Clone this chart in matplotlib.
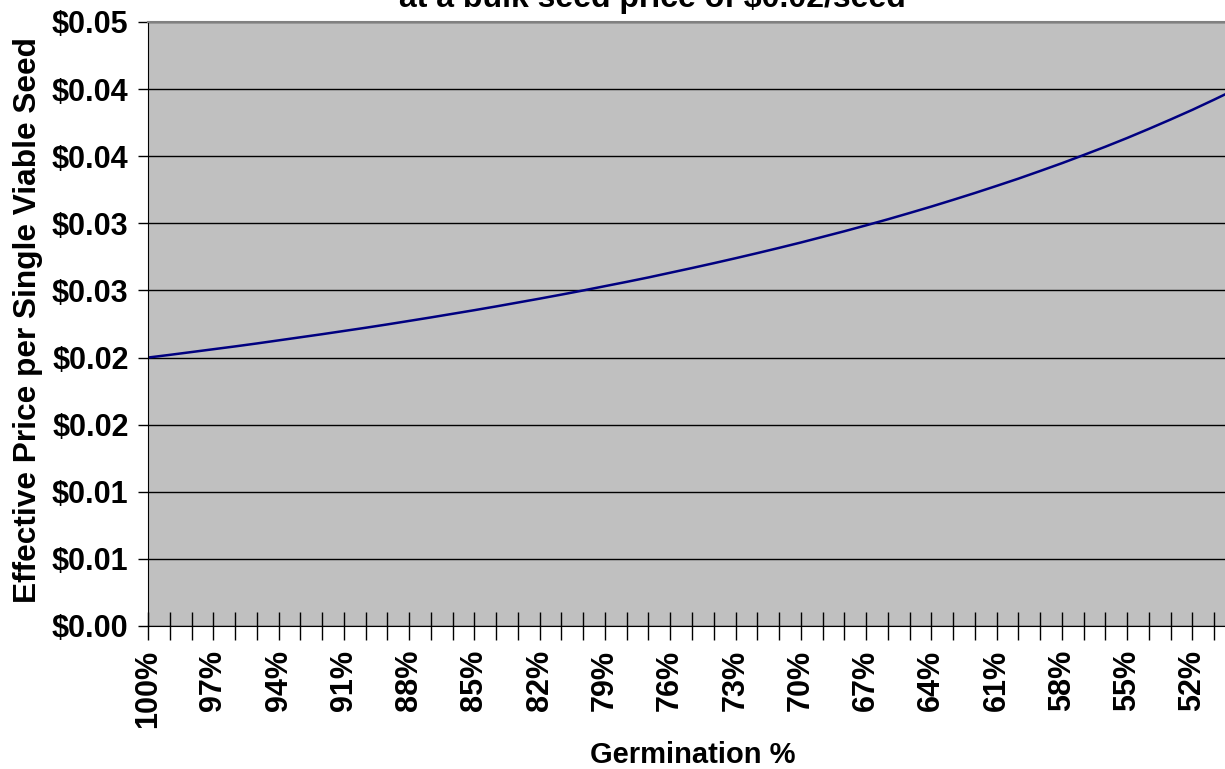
import matplotlib
matplotlib.use('Agg')
import matplotlib.pyplot as plt
from matplotlib.ticker import MultipleLocator

plt.rcParams['font.family'] = ['Liberation Sans', 'DejaVu Sans']
plt.rcParams['font.weight'] = 'bold'

# germination % (category axis runs from 100 down)
germination = [100, 99, 98, 97, 96, 95, 94, 93, 92, 91, 90, 89, 88, 87, 86, 85, 84,
               83, 82, 81, 80, 79, 78, 77, 76, 75, 74, 73, 72, 71, 70, 69, 68, 67,
               66, 65, 64, 63, 62, 61, 60, 59, 58, 57, 56, 55, 54, 53, 52, 51, 50]
# effective price per viable seed
price = [0.02000, 0.02020, 0.02041, 0.02062, 0.02083, 0.02105, 0.02128, 0.02151,
         0.02174, 0.02198, 0.02222, 0.02247, 0.02273, 0.02299, 0.02326, 0.02353,
         0.02381, 0.02410, 0.02439, 0.02469, 0.02500, 0.02532, 0.02564, 0.02597,
         0.02632, 0.02667, 0.02703, 0.02740, 0.02778, 0.02817, 0.02857, 0.02899,
         0.02941, 0.02985, 0.03030, 0.03077, 0.03125, 0.03175, 0.03226, 0.03279,
         0.03333, 0.03390, 0.03448, 0.03509, 0.03571, 0.03636, 0.03704, 0.03774,
         0.03846, 0.03922, 0.04000]

y_ticks = [0.0, 0.005, 0.01, 0.015, 0.02, 0.025, 0.03, 0.035, 0.04, 0.045]
y_labels = ['$0.00', '$0.01', '$0.01', '$0.02', '$0.02', '$0.03', '$0.03',
            '$0.04', '$0.04', '$0.05']
x_label_ticks = [100, 97, 94, 91, 88, 85, 82, 79, 76, 73, 70, 67, 64, 61, 58, 55, 52]

W, H = 1225, 769
fig = plt.figure(figsize=(W / 100, H / 100), dpi=100)
# plot area runs past the right edge of the picture (cropped chart)
left, right, top, bottom = 148, 1236, 22, 626
ax = fig.add_axes([left / W, 1 - bottom / H, (right - left) / W, (bottom - top) / H])
ax.set_facecolor('#C0C0C0')

ax.plot(germination, price, color='#000080', lw=1.8)

ax.set_xlim(100, 50)
ax.set_ylim(0, 0.045)

ax.set_yticks(y_ticks)
ax.set_yticklabels(y_labels, fontsize=22, fontweight='bold')
ax.yaxis.grid(True, color='black', lw=1)
ax.set_axisbelow(True)

ax.set_xticks(x_label_ticks)
ax.set_xticklabels(['{}%'.format(g) for g in x_label_ticks], rotation=90,
                   fontsize=22, fontweight='bold', va='top', ha='center')
ax.xaxis.set_minor_locator(MultipleLocator(1))
ax.tick_params(axis='x', which='both', direction='inout', length=20, width=1,
               color='black', pad=7)
ax.tick_params(axis='y', direction='out', length=7, width=1, color='black', pad=7)

ax.spines['left'].set_color('black')
ax.spines['bottom'].set_color('black')
ax.spines['top'].set_color('#808080')
ax.spines['top'].set_linewidth(1.5)
ax.spines['right'].set_visible(False)

# title is cut off at the top in the original chart
fig.text(652 / W, 1 - 7 / H, 'at a bulk seed price of $0.02/seed', ha='center',
         va='baseline', fontsize=23, fontweight='bold')
fig.text(693 / W, 1 - 763 / H, 'Germination %', ha='center', va='baseline',
         fontsize=21, fontweight='bold')
fig.text(28 / W, 1 - 320 / H, 'Effective Price per Single Viable Seed', ha='center',
         va='center', rotation=90, fontsize=22.8, fontweight='bold')

fig.savefig('out.png', dpi=100)
